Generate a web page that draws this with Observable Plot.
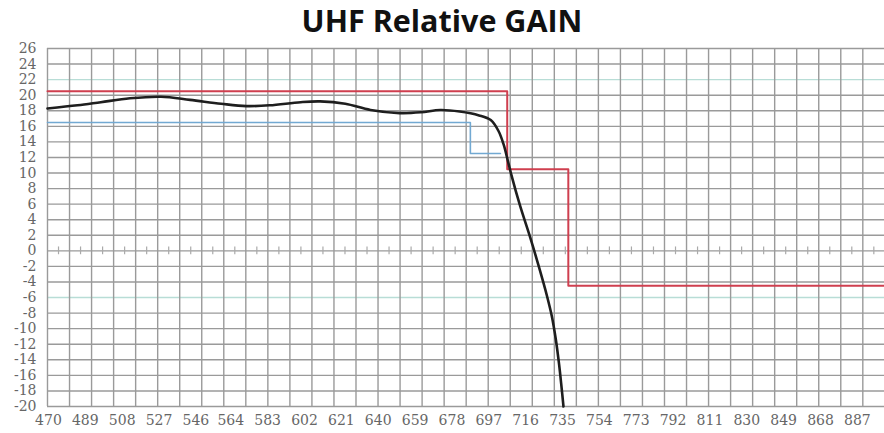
<!DOCTYPE html>
<html><head><meta charset="utf-8">
<script src="https://cdn.jsdelivr.net/npm/d3@7"></script>
<script src="https://cdn.jsdelivr.net/npm/@observablehq/plot@0.6"></script>
<style>
body{margin:0;background:#fff;width:884px;height:433px;overflow:hidden}
#title{height:36px;font:700 30.5px "Open Sans";text-align:center;line-height:40px;color:#111;letter-spacing:0}
#chart svg text{font-family:"DejaVu Serif","Liberation Serif",serif !important;font-size:14px !important;fill:#666}
</style></head><body>
<div id="title">UHF Relative GAIN</div>
<div id="chart"></div>
<script>
const xTicks=[470,489,508,527,546,564,583,602,621,640,659,678,697,716,735,754,773,792,811,830,849,868,887];
const yTicks=[-20,-18,-16,-14,-12,-10,-8,-6,-4,-2,0,2,4,6,8,10,12,14,16,18,20,22,24,26];
const gainFreq=[469.5,485,497,512,528,543,559,572,584,600,610,623,636,651,662,672,682,692,698,702,704.6,706.8,708.5,713,718.5,723,727,729.5,731.5,733.2,734.5,735.5];
const gainDb=[18.3,18.7,19.1,19.6,19.8,19.4,18.9,18.6,18.7,19.1,19.2,18.9,18.1,17.7,17.8,18.1,17.9,17.4,16.8,15.4,13.7,11.6,9.9,5.9,1.6,-2.2,-5.8,-8.4,-11.3,-14.5,-17.5,-20];
const maskFreq=[469.5,706.5,706.5,738,738,901];
const maskDb=[20.5,20.5,10.5,10.5,-4.5,-4.5];
const specFreq=[469.5,687.5,687.5,703];
const specDb=[16.5,16.5,12.5,12.5];
const xDomain=[469.5,901];
const gridStep=11.36;
const gridX=d3.range(39).map(k=>xDomain[0]+k*gridStep);
const gridMid=gridX.slice(0,-1).map(v=>v+gridStep/2);

const gain=gainFreq.map((f,i)=>({f,v:gainDb[i]}));
const mask=maskFreq.map((f,i)=>({f,v:maskDb[i]}));
const spec=specFreq.map((f,i)=>({f,v:specDb[i]}));
const tealRows=[22,-6];
const serif='"DejaVu Serif","Liberation Serif",serif';

const chart=Plot.plot({
  width:884,height:397,
  marginTop:12,marginBottom:27,marginLeft:47,marginRight:0,
  style:{fontFamily:serif,fontSize:"14px",color:"#666",background:"#fff"},
  x:{domain:xDomain,axis:null},
  y:{domain:[-20,26],axis:null},
  marks:[
    Plot.ruleY(yTicks.filter(v=>!tealRows.includes(v)),{stroke:"#9a9a9a",strokeWidth:1.4}),
    Plot.ruleY(tealRows,{stroke:"#b8ddd6",strokeWidth:1.4}),
    Plot.ruleX(gridX,{stroke:"#9a9a9a",strokeWidth:1.4}),
    Plot.ruleX(gridMid,{y1:-0.5,y2:0.5,stroke:"#aaa",strokeWidth:1.2}),
    Plot.line(spec,{x:"f",y:"v",stroke:"#72a9d2",strokeWidth:1.6}),
    Plot.line(mask,{x:"f",y:"v",stroke:"#cf3f4f",strokeWidth:2}),
    Plot.line(gain,{x:"f",y:"v",stroke:"#1e1e1e",strokeWidth:2.6,curve:"catmull-rom"}),
    Plot.axisY(yTicks,{tickSize:0,tickPadding:11,label:null,fontFamily:serif,fontSize:14,tickFormat:d=>String(d)}),
    Plot.axisX(xTicks,{tickSize:0,tickPadding:9,label:null,fontFamily:serif,fontSize:14,tickFormat:d=>String(d)})
  ]
});
document.getElementById("chart").appendChild(chart);
</script>
</body></html>
